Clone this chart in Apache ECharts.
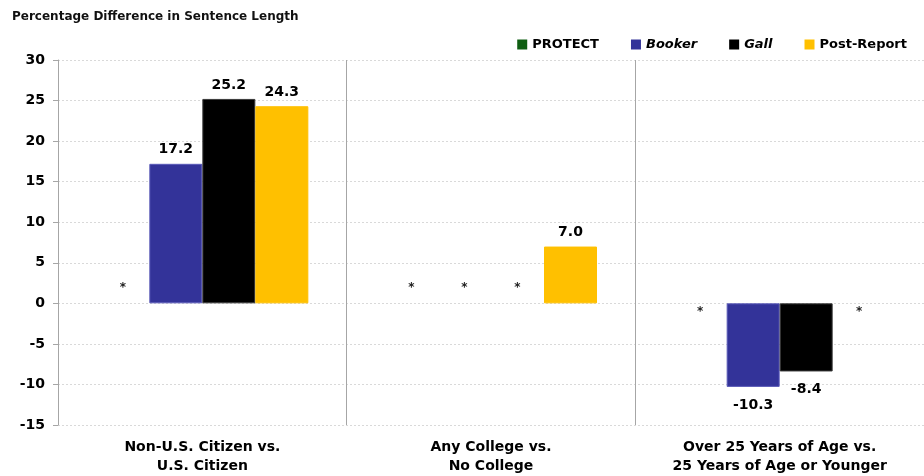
<!DOCTYPE html>
<html>
<head>
<meta charset="utf-8">
<script src="https://cdn.jsdelivr.net/npm/echarts@6/dist/echarts.min.js"></script>
<style>
  html, body { margin: 0; padding: 0; background: #fff; }
  #chart { width: 924px; height: 476px; }
</style>
</head>
<body>
<div id="chart"></div>
<script>
const categories = ['Non-U.S. Citizen vs.\nU.S. Citizen', 'Any College vs.\nNo College', 'Over 25 Years of Age vs.\n25 Years of Age or Younger'];
const seriesNames = ['PROTECT', 'Booker', 'Gall', 'Post-Report'];
const protectValues = [null, null, null];
const bookerValues = [17.2, null, -10.3];
const gallValues = [25.2, null, -8.4];
const postReportValues = [24.3, 7.0, null];
const colors = ['#0f5e12', '#333399', '#000000', '#ffc000'];
const borderColors = ['#0f5e12', '#5a5ab8', '#3a3a3a', '#ffc000'];
const yTicks = [-15, -10, -5, 0, 5, 10, 15, 20, 25, 30];
// which side the "*" placeholder sits for each category (1 = above zero, -1 = below)
const asteriskSide = [1, 1, -1];

const FONT = '"DejaVu Sans", sans-serif';
const allValues = [protectValues, bookerValues, gallValues, postReportValues];

function buildData(vals, si) {
  return vals.map((v, i) => {
    if (v === null) {
      return {
        value: 0,
        itemStyle: { color: 'rgba(0,0,0,0)', borderWidth: 0 },
        label: {
          show: true,
          formatter: '*',
          position: asteriskSide[i] > 0 ? 'top' : 'bottom',
          distance: asteriskSide[i] > 0 ? 9 : 3,
          fontSize: 12,
          fontWeight: 'bold',
          color: '#222'
        }
      };
    }
    return {
      value: v,
      label: {
        show: true,
        formatter: v.toFixed(1),
        position: v >= 0 ? 'top' : 'bottom',
        distance: v >= 0 ? 7 : 11,
        fontSize: 14,
        fontWeight: 'bold',
        color: '#000'
      }
    };
  });
}

const series = seriesNames.map((name, si) => ({
  name: name,
  type: 'bar',
  barWidth: 53,
  barGap: '0%',
  itemStyle: { color: colors[si], borderColor: borderColors[si], borderWidth: 1 },
  data: buildData(allValues[si], si),
  emphasis: { disabled: true }
}));

const chart = echarts.init(document.getElementById('chart'), null, { renderer: 'canvas' });
chart.setOption({
  animation: false,
  textStyle: { fontFamily: FONT },
  title: {
    text: 'Percentage Difference in Sentence Length',
    left: 7,
    top: 6,
    textStyle: { fontFamily: FONT, fontSize: 12, fontWeight: 'bold', color: '#111' }
  },
  legend: {
    data: seriesNames,
    right: 12,
    top: 33,
    itemWidth: 10,
    itemHeight: 10,
    itemGap: 32,
    icon: 'rect',
    itemStyle: { borderWidth: 0 },
    formatter: function (name) {
      return (name === 'Booker' || name === 'Gall') ? '{i|' + name + '}' : '{n|' + name + '}';
    },
    textStyle: {
      fontFamily: FONT,
      fontSize: 13,
      fontWeight: 'bold',
      color: '#000',
      rich: {
        i: { fontFamily: FONT, fontSize: 13, fontWeight: 'bold', fontStyle: 'italic', color: '#000' },
        n: { fontFamily: FONT, fontSize: 13, fontWeight: 'bold', color: '#000' }
      }
    }
  },
  grid: { left: 58, width: 876, top: 60, bottom: 48, containLabel: false },
  xAxis: {
    type: 'category',
    data: categories,
    axisLine: { show: false },
    axisTick: { show: false },
    splitLine: { show: true, lineStyle: { color: '#a6a6a6', width: 1, type: 'solid' } },
    axisLabel: {
      margin: 13,
      fontFamily: FONT,
      fontSize: 14,
      fontWeight: 'bold',
      color: '#000',
      lineHeight: 19,
      interval: 0
    }
  },
  yAxis: {
    type: 'value',
    min: yTicks[0],
    max: yTicks[yTicks.length - 1],
    interval: 5,
    axisLine: { show: true, lineStyle: { color: '#a6a6a6', width: 1 } },
    axisTick: { show: true, length: 5, lineStyle: { color: '#a6a6a6' } },
    splitLine: { show: true, lineStyle: { color: '#d9d9d9', type: [2, 2], width: 1 } },
    axisLabel: {
      margin: 13,
      fontFamily: FONT,
      fontSize: 14,
      fontWeight: 'bold',
      color: '#000'
    }
  },
  series: series
});
</script>
</body>
</html>
